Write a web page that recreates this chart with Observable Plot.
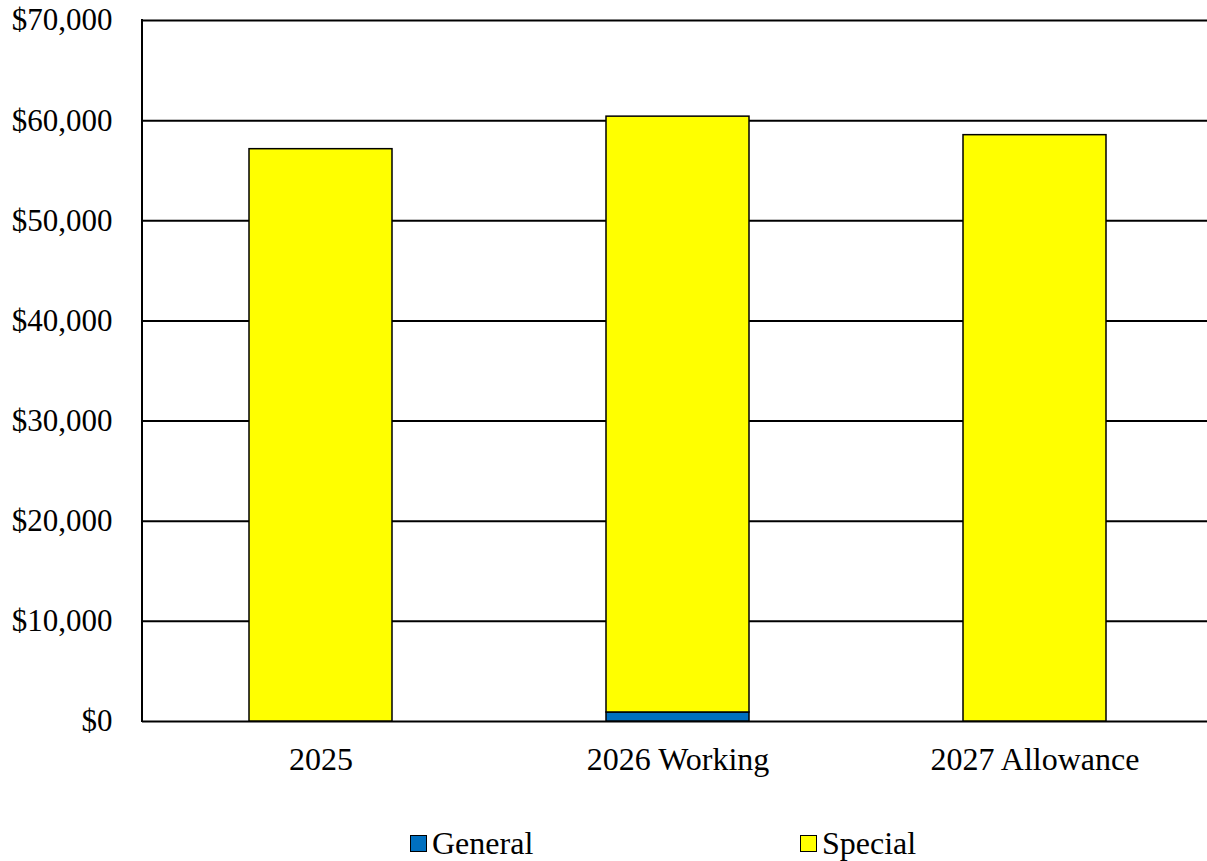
<!DOCTYPE html>
<html>
<head>
<meta charset="utf-8">
<script src="https://cdn.jsdelivr.net/npm/d3@7"></script>
<script src="https://cdn.jsdelivr.net/npm/@observablehq/plot@0.6"></script>
<style>
  html, body { margin: 0; background: #fff; overflow: hidden; font-family: "Liberation Serif", "Times New Roman", serif; }
  #wrap { width: 1207px; }
  #legend { position: relative; height: 71px; font-size: 32px; color: #000; }
  .item { position: absolute; top: 35px; display: flex; align-items: center; height: 36px; }
  .sw { width: 15px; height: 15px; border: 1.5px solid #000; margin-right: 5px; }
</style>
</head>
<body>
<div id="wrap"></div>
<script>
const categories = ["2025", "2026 Working", "2027 Allowance"];
const generalValues = [0, 900, 0];
const specialValues = [57150, 59500, 58550];
const seriesNames = ["General", "Special"];
const seriesColors = ["#0070C0", "#FFFF00"];
const yTicks = [0, 10000, 20000, 30000, 40000, 50000, 60000, 70000];

const data = [];
categories.forEach((c, i) => {
  data.push({category: c, series: "General", value: generalValues[i]});
  data.push({category: c, series: "Special", value: specialValues[i]});
});

const fmt = d => "$" + d3.format(",")(d);

const plot = Plot.plot({
  width: 1207,
  height: 790,
  marginLeft: 142,
  marginRight: -6,
  marginTop: 20,
  marginBottom: 69,
  style: {fontFamily: '"Liberation Serif", "Times New Roman", serif', fontSize: "30px", color: "#000", background: "#fff", overflow: "visible"},
  x: {domain: categories, paddingInner: 0.6, paddingOuter: 0.3, label: null},
  y: {domain: [0, 70000], label: null},
  color: {domain: seriesNames, range: seriesColors},
  marks: [
    Plot.ruleY(yTicks, {stroke: "#000", strokeWidth: 2}),
    Plot.barY(data.filter(d => d.value > 0), Plot.stackY({
      x: "category", y: "value", fill: "series", order: seriesNames,
      stroke: "#000", strokeWidth: 1.5
    })),
    Plot.axisX({tickSize: 0, tickPadding: 26, fontSize: 32, fill: "#000"}),
    Plot.axisY({ticks: yTicks, tickSize: 0, tickPadding: 30, tickFormat: fmt, fontSize: 31, fill: "#000"})
  ]
});

// left axis line using the plot's own y scale
const ys = plot.scale("y");
const svg = d3.select(plot);
svg.append("line")
  .attr("x1", 142).attr("x2", 142)
  .attr("y1", ys.apply(0) + 1).attr("y2", ys.apply(70000) - 1)
  .attr("stroke", "#000").attr("stroke-width", 2);

document.getElementById("wrap").appendChild(plot);

const legend = document.createElement("div");
legend.id = "legend";
const legendX = [410, 800];
seriesNames.forEach((name, i) => {
  const item = document.createElement("div");
  item.className = "item";
  item.style.left = legendX[i] + "px";
  const sw = document.createElement("div");
  sw.className = "sw";
  sw.style.background = seriesColors[i];
  const t = document.createElement("span");
  t.textContent = name;
  item.appendChild(sw);
  item.appendChild(t);
  legend.appendChild(item);
});
document.getElementById("wrap").appendChild(legend);
</script>
</body>
</html>
